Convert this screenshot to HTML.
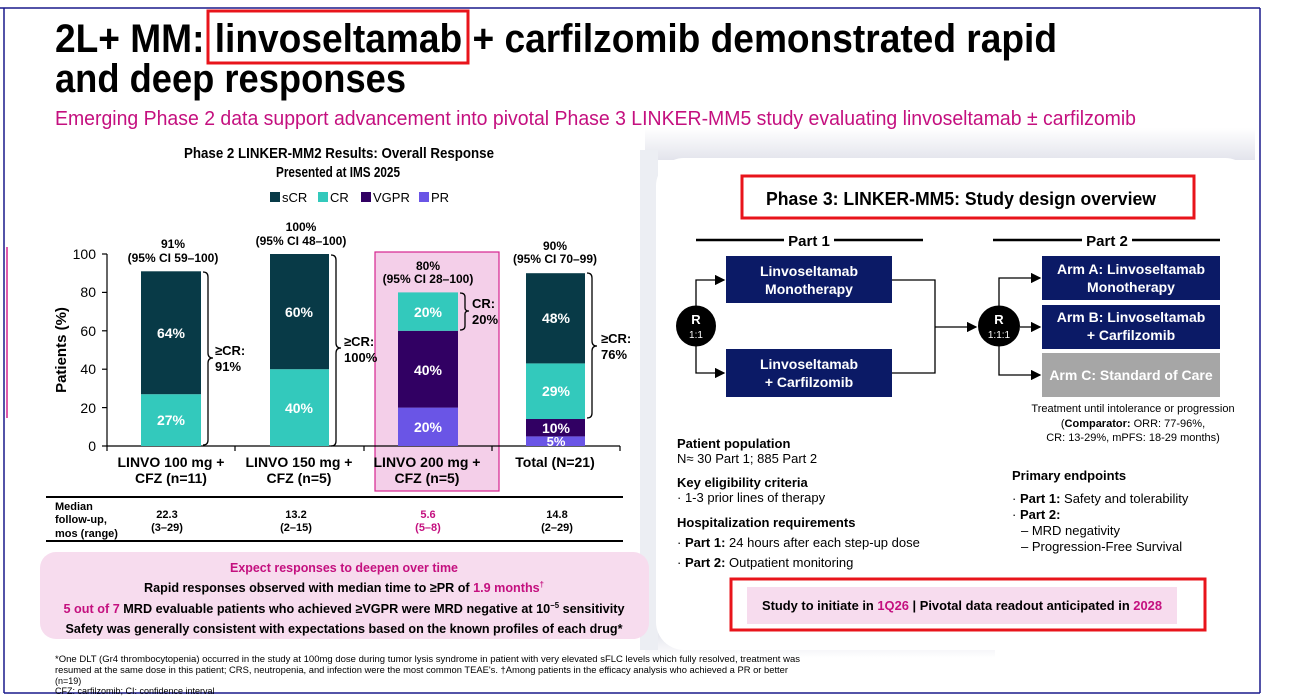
<!DOCTYPE html>
<html><head><meta charset="utf-8"><style>
html,body{margin:0;padding:0;background:#fff}
svg{display:block}
text{font-family:"Liberation Sans",sans-serif}
.b{font-weight:bold}
</style></head><body>
<svg width="1300" height="700" viewBox="0 0 1300 700" xmlns="http://www.w3.org/2000/svg">
<defs>
<linearGradient id="sh" x1="0" y1="0" x2="0" y2="1"><stop offset="0" stop-color="#ffffff"/><stop offset="1" stop-color="#e3e4ec"/></linearGradient>
<linearGradient id="sh2" x1="0" y1="0" x2="0" y2="1"><stop offset="0" stop-color="#e3e4ec"/><stop offset="1" stop-color="#ffffff"/></linearGradient>
<marker id="ar" markerWidth="8" markerHeight="8" refX="7" refY="4" orient="auto"><path d="M0,0 L8,4 L0,8 z" fill="#000"/></marker>
</defs>
<!-- borders -->
<line x1="0" y1="8" x2="1260" y2="8" stroke="#1a1a8c" stroke-width="1.5"/>
<line x1="4" y1="8" x2="4" y2="693" stroke="#1a1a8c" stroke-width="1.5"/>
<line x1="1260" y1="8" x2="1260" y2="693" stroke="#1a1a8c" stroke-width="1.5"/>
<line x1="4" y1="693" x2="1260" y2="693" stroke="#1a1a8c" stroke-width="1.5"/>
<line x1="7" y1="247" x2="7" y2="418" stroke="#d6258f" stroke-width="1.5"/>

<!-- card shadow -->
<rect x="645" y="128" width="610" height="32" fill="url(#sh)"/>
<rect x="645" y="632" width="350" height="26" fill="url(#sh2)"/>
<rect x="640" y="150" width="18" height="500" fill="#eceef3"/>
<rect x="656" y="158" width="597" height="492" rx="28" fill="#fff"/>

<!-- title -->
<text x="55" y="52" class="b" font-size="40" textLength="1002" lengthAdjust="spacingAndGlyphs">2L+ MM: linvoseltamab + carfilzomib demonstrated rapid</text>
<text x="55" y="92" class="b" font-size="40" textLength="351" lengthAdjust="spacingAndGlyphs">and deep responses</text>
<rect x="208" y="11" width="260" height="52" fill="none" stroke="#e8141b" stroke-width="3"/>
<text x="55" y="125" font-size="20" fill="#c4107f" textLength="1081" lengthAdjust="spacingAndGlyphs">Emerging Phase 2 data support advancement into pivotal Phase 3 LINKER-MM5 study evaluating linvoseltamab ± carfilzomib</text>

<!-- chart title & legend -->
<text x="339" y="158" class="b" font-size="15" text-anchor="middle" textLength="310" lengthAdjust="spacingAndGlyphs">Phase 2 LINKER-MM2 Results: Overall Response</text>
<text x="338" y="177" class="b" font-size="15" text-anchor="middle" textLength="124" lengthAdjust="spacingAndGlyphs">Presented at IMS 2025</text>
<rect x="270" y="192" width="10" height="10" fill="#083a47"/><text x="282" y="202" font-size="13">sCR</text>
<rect x="318" y="192" width="10" height="10" fill="#33c9bc"/><text x="330" y="202" font-size="13">CR</text>
<rect x="361" y="192" width="10" height="10" fill="#310063"/><text x="373" y="202" font-size="13">VGPR</text>
<rect x="419" y="192" width="10" height="10" fill="#6a55e6"/><text x="431" y="202" font-size="13">PR</text>

<!-- highlight -->
<rect x="375" y="252" width="124" height="239" fill="#f4cfe9" stroke="#d6258f" stroke-width="1.2"/>

<!-- axes -->
<line x1="107" y1="254" x2="107" y2="446" stroke="#000" stroke-width="1.2"/>
<line x1="107" y1="446" x2="620" y2="446" stroke="#000" stroke-width="1.2"/>
<g stroke="#000" stroke-width="1.2">
<line x1="102" y1="254" x2="107" y2="254"/><line x1="102" y1="292.4" x2="107" y2="292.4"/><line x1="102" y1="330.8" x2="107" y2="330.8"/><line x1="102" y1="369.2" x2="107" y2="369.2"/><line x1="102" y1="407.6" x2="107" y2="407.6"/><line x1="102" y1="446" x2="107" y2="446"/>
<line x1="107" y1="446" x2="107" y2="451"/><line x1="235" y1="446" x2="235" y2="451"/><line x1="364" y1="446" x2="364" y2="451"/><line x1="492" y1="446" x2="492" y2="451"/><line x1="620" y1="446" x2="620" y2="451"/>
</g>
<g font-size="14" text-anchor="end">
<text x="96" y="259">100</text><text x="96" y="297">80</text><text x="96" y="336">60</text><text x="96" y="374">40</text><text x="96" y="413">20</text><text x="96" y="451">0</text>
</g>
<text transform="translate(66,350) rotate(-90)" class="b" font-size="15" text-anchor="middle">Patients (%)</text>

<!-- bars -->
<rect x="141" y="394.2" width="60" height="51.8" fill="#33c9bc"/>
<rect x="141" y="271.3" width="60" height="122.9" fill="#083a47"/>
<rect x="270" y="369.2" width="59" height="76.8" fill="#33c9bc"/>
<rect x="270" y="254" width="59" height="115.2" fill="#083a47"/>
<rect x="398" y="407.6" width="60" height="38.4" fill="#6a55e6"/>
<rect x="398" y="330.8" width="60" height="76.8" fill="#310063"/>
<rect x="398" y="292.4" width="60" height="38.4" fill="#33c9bc"/>
<rect x="526" y="436.4" width="59" height="9.6" fill="#6a55e6"/>
<rect x="526" y="419" width="59" height="17.4" fill="#310063"/>
<rect x="526" y="363.4" width="59" height="55.6" fill="#33c9bc"/>
<rect x="526" y="273.2" width="59" height="90.2" fill="#083a47"/>
<g fill="#fff" class="b" font-size="14" text-anchor="middle" font-weight="bold">
<text x="171" y="338">64%</text><text x="171" y="425">27%</text>
<text x="299" y="317">60%</text><text x="299" y="413">40%</text>
<text x="428" y="317">20%</text><text x="428" y="375">40%</text><text x="428" y="432">20%</text>
<text x="556" y="323">48%</text><text x="556" y="396">29%</text><text x="556" y="433">10%</text><text x="556" y="446" font-size="13">5%</text>
</g>
<!-- annotations -->
<g class="b" font-size="12" text-anchor="middle" font-weight="bold">
<text x="173" y="248">91%</text><text x="173" y="262">(95% CI 59–100)</text>
<text x="301" y="231">100%</text><text x="301" y="245">(95% CI 48–100)</text>
<text x="428" y="270">80%</text><text x="428" y="283">(95% CI 28–100)</text>
<text x="555" y="250">90%</text><text x="555" y="263">(95% CI 70–99)</text>
</g>
<!-- braces -->
<g fill="none" stroke="#000" stroke-width="1.3">
<path d="M203,272 q5,0 5,5 v76 q0,5 5,5 q-5,0 -5,5 v77 q0,5 -5,5"/>
<path d="M331,255 q5,0 5,5 v83 q0,5 5,5 q-5,0 -5,5 v88 q0,5 -5,5"/>
<path d="M460,293 q5,0 5,4 v11 q0,3 4,3 q-4,0 -4,3 v12 q0,4 -5,4"/>
<path d="M587,273 q5,0 5,5 v63 q0,5 5,5 q-5,0 -5,5 v62 q0,5 -5,5"/>
</g>
<g class="b" font-size="13" font-weight="bold">
<text x="215" y="355">≥CR:</text><text x="215" y="371">91%</text>
<text x="344" y="346">≥CR:</text><text x="344" y="362">100%</text>
<text x="472" y="308">CR:</text><text x="472" y="324">20%</text>
<text x="601" y="343">≥CR:</text><text x="601" y="359">76%</text>
</g>
<!-- categories -->
<g class="b" font-size="14" text-anchor="middle" font-weight="bold">
<text x="171" y="467">LINVO 100 mg +</text><text x="171" y="483">CFZ (n=11)</text>
<text x="299" y="467">LINVO 150 mg +</text><text x="299" y="483">CFZ (n=5)</text>
<text x="427" y="467">LINVO 200 mg +</text><text x="427" y="483">CFZ (n=5)</text>
<text x="555" y="467">Total (N=21)</text>
</g>
<!-- follow-up table -->
<line x1="46" y1="497" x2="623" y2="497" stroke="#000" stroke-width="2"/>
<line x1="46" y1="541" x2="623" y2="541" stroke="#000" stroke-width="2"/>
<g class="b" font-size="11" font-weight="bold">
<text x="55" y="510">Median</text><text x="55" y="523">follow-up,</text><text x="55" y="537">mos (range)</text>
</g>
<g font-size="11" text-anchor="middle" font-weight="bold">
<text x="167" y="518">22.3</text><text x="167" y="531">(3–29)</text>
<text x="296" y="518">13.2</text><text x="296" y="531">(2–15)</text>
<text x="428" y="518" fill="#c4107f">5.6</text><text x="428" y="531" fill="#c4107f">(5–8)</text>
<text x="557" y="518">14.8</text><text x="557" y="531">(2–29)</text>
</g>
<!-- pink box -->
<rect x="40" y="552" width="609" height="87" rx="16" fill="#f7dcee"/>
<g font-size="13" text-anchor="middle" font-weight="bold">
<text x="344" y="572" fill="#c4107f" textLength="228" lengthAdjust="spacingAndGlyphs">Expect responses to deepen over time</text>
<text x="344" y="592" textLength="400" lengthAdjust="spacingAndGlyphs">Rapid responses observed with median time to ≥PR of <tspan fill="#c4107f">1.9 months<tspan font-size="8" dy="-5">†</tspan></tspan></text>
<text x="344" y="613" textLength="561" lengthAdjust="spacingAndGlyphs"><tspan fill="#c4107f">5 out of 7</tspan> MRD evaluable patients who achieved ≥VGPR were MRD negative at 10<tspan font-size="8" dy="-5">−5</tspan><tspan dy="5"> sensitivity</tspan></text>
<text x="344" y="633" textLength="557" lengthAdjust="spacingAndGlyphs">Safety was generally consistent with expectations based on the known profiles of each drug*</text>
</g>
<!-- footnote -->
<g font-size="9">
<text x="55" y="662" textLength="745" lengthAdjust="spacingAndGlyphs">*One DLT (Gr4 thrombocytopenia) occurred in the study at 100mg dose during tumor lysis syndrome in patient with very elevated sFLC levels which fully resolved, treatment was</text>
<text x="55" y="673" textLength="733" lengthAdjust="spacingAndGlyphs">resumed at the same dose in this patient; CRS, neutropenia, and infection were the most common TEAE's. †Among patients in the efficacy analysis who achieved a PR or better</text>
<text x="55" y="684">(n=19)</text>
<text x="55" y="694">CFZ: carfilzomib; CI: confidence interval</text>
</g>

<!-- right panel -->
<rect x="742" y="176" width="452" height="42" fill="none" stroke="#e8141b" stroke-width="3"/>
<text x="766" y="205" class="b" font-size="18" font-weight="bold" textLength="390" lengthAdjust="spacingAndGlyphs">Phase 3: LINKER-MM5: Study design overview</text>
<g stroke="#000" stroke-width="2.5">
<line x1="696" y1="240" x2="784" y2="240"/><line x1="834" y1="240" x2="923" y2="240"/>
<line x1="993" y1="240" x2="1082" y2="240"/><line x1="1132" y1="240" x2="1220" y2="240"/>
</g>
<text x="809" y="246" text-anchor="middle" class="b" font-size="15" font-weight="bold">Part 1</text>
<text x="1107" y="246" text-anchor="middle" class="b" font-size="15" font-weight="bold">Part 2</text>
<g fill="none" stroke="#000" stroke-width="1.3">
<path d="M696,306 V280 H724" marker-end="url(#ar)"/>
<path d="M696,346 V373 H724" marker-end="url(#ar)"/>
<path d="M892,280 H935 V373 H892"/>
<path d="M935,327 H976" marker-end="url(#ar)"/>
<path d="M999,306 V278 H1040" marker-end="url(#ar)"/>
<path d="M1020,327 H1040" marker-end="url(#ar)"/>
<path d="M999,346 V375 H1040" marker-end="url(#ar)"/>
</g>
<ellipse cx="696" cy="326" rx="20" ry="20.5" fill="#000"/>
<text x="696" y="324" fill="#fff" text-anchor="middle" font-size="13" font-weight="bold">R</text>
<text x="696" y="338" fill="#fff" text-anchor="middle" font-size="10">1:1</text>
<ellipse cx="999" cy="326" rx="21" ry="20.5" fill="#000"/>
<text x="999" y="324" fill="#fff" text-anchor="middle" font-size="13" font-weight="bold">R</text>
<text x="999" y="338" fill="#fff" text-anchor="middle" font-size="10">1:1:1</text>
<rect x="726" y="256" width="166" height="47" fill="#0b1a66"/>
<rect x="726" y="349" width="166" height="48" fill="#0b1a66"/>
<rect x="1042" y="256" width="178" height="44" fill="#0b1a66"/>
<rect x="1042" y="305" width="178" height="44" fill="#0b1a66"/>
<rect x="1042" y="353" width="178" height="44" fill="#a6a6a6"/>
<g fill="#fff" font-size="14" font-weight="bold" text-anchor="middle">
<text x="809" y="276">Linvoseltamab</text><text x="809" y="294">Monotherapy</text>
<text x="809" y="369">Linvoseltamab</text><text x="809" y="387">+ Carfilzomib</text>
<text x="1131" y="274">Arm A: Linvoseltamab</text><text x="1131" y="292">Monotherapy</text>
<text x="1131" y="322">Arm B: Linvoseltamab</text><text x="1131" y="340">+ Carfilzomib</text>
<text x="1131" y="380">Arm C: Standard of Care</text>
</g>
<g font-size="11" text-anchor="middle">
<text x="1133" y="412">Treatment until intolerance or progression</text>
<text x="1133" y="427">(<tspan font-weight="bold">Comparator:</tspan> ORR: 77-96%,</text>
<text x="1133" y="441">CR: 13-29%, mPFS: 18-29 months)</text>
</g>
<g font-size="13">
<text x="677" y="448" font-weight="bold">Patient population</text>
<text x="677" y="463">N≈ 30 Part 1; 885 Part 2</text>
<text x="677" y="487" font-weight="bold">Key eligibility criteria</text>
<text x="677" y="502">·  1-3 prior lines of therapy</text>
<text x="677" y="527" font-weight="bold">Hospitalization requirements</text>
<text x="677" y="547">·  <tspan font-weight="bold">Part 1:</tspan> 24 hours after each step-up dose</text>
<text x="677" y="567">·  <tspan font-weight="bold">Part 2:</tspan> Outpatient monitoring</text>
<text x="1012" y="480" font-weight="bold">Primary endpoints</text>
<text x="1012" y="503">·  <tspan font-weight="bold">Part 1:</tspan> Safety and tolerability</text>
<text x="1012" y="519">·  <tspan font-weight="bold">Part 2:</tspan></text>
<text x="1021" y="535">–  MRD negativity</text>
<text x="1021" y="551">–  Progression-Free Survival</text>
</g>
<rect x="731" y="579" width="474" height="51" fill="none" stroke="#e8141b" stroke-width="3"/>
<rect x="747" y="587" width="430" height="37" fill="#f7dcee"/>
<text x="962" y="610" text-anchor="middle" font-size="13" font-weight="bold" textLength="400" lengthAdjust="spacingAndGlyphs">Study to initiate in <tspan fill="#c4107f">1Q26</tspan>   |   Pivotal data readout anticipated in <tspan fill="#c4107f">2028</tspan></text>
</svg>
</body></html>
